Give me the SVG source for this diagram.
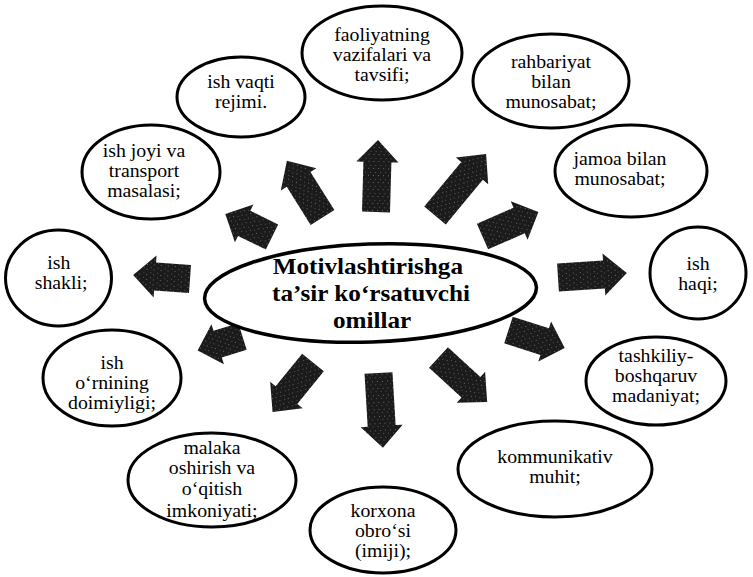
<svg xmlns="http://www.w3.org/2000/svg" width="753" height="577" viewBox="0 0 753 577">
<defs>
<pattern id="grain" width="7" height="5" patternUnits="userSpaceOnUse">
<rect width="7" height="5" fill="#1b1b1b"/>
<rect x="1" y="1" width="1" height="1" fill="#6a6a6a"/>
<rect x="4" y="3" width="1" height="1" fill="#555"/>
</pattern>
</defs>
<style>
.n{fill:#fff;stroke:#000;stroke-width:3}
.t{font-family:"Liberation Serif","Times New Roman",serif;font-size:18px;fill:#000;text-anchor:middle}
.c{font-family:"Liberation Serif","Times New Roman",serif;font-size:24px;font-weight:bold;fill:#000;text-anchor:middle}
.a{fill:url(#grain)}
</style>
<rect width="753" height="577" fill="#fff"/>
<g id="connectors">
<polygon class="a" transform="translate(376,212) rotate(-88.4)" points="0,-14 50,-14 50,-21 72,0 50,21 50,14 0,14"/>
<polygon class="a" transform="translate(322.5,217.5) rotate(-122.1)" points="0,-14 45,-14 45,-21 67,0 45,21 45,14 0,14"/>
<polygon class="a" transform="translate(272,237) rotate(-153.9)" points="0,-14 31,-14 31,-21 52,0 31,21 31,14 0,14"/>
<polygon class="a" transform="translate(190,279) rotate(-176)" points="0,-14 35,-14 35,-21 57,0 35,21 35,14 0,14"/>
<polygon class="a" transform="translate(242.5,336.5) rotate(162.7)" points="0,-14 26,-14 26,-21 47,0 26,21 26,14 0,14"/>
<polygon class="a" transform="translate(313,362.5) rotate(129.2)" points="0,-14 42,-14 42,-21 64,0 42,21 42,14 0,14"/>
<polygon class="a" transform="translate(378.5,373) rotate(86.6)" points="0,-14 53,-14 53,-21 75,0 53,21 53,14 0,14"/>
<polygon class="a" transform="translate(438.5,357.5) rotate(42.5)" points="0,-14 44,-14 44,-21 66,0 44,21 44,14 0,14"/>
<polygon class="a" transform="translate(508.5,330) rotate(17.7)" points="0,-14 38,-14 38,-21 59,0 38,21 38,14 0,14"/>
<polygon class="a" transform="translate(558,277.5) rotate(-3.7)" points="0,-14 46,-14 46,-21 69,0 46,21 46,14 0,14"/>
<polygon class="a" transform="translate(482.5,236.5) rotate(-23.6)" points="0,-14 40,-14 40,-21 61,0 40,21 40,14 0,14"/>
<polygon class="a" transform="translate(435,215.5) rotate(-50.3)" points="0,-14 58,-14 58,-21 80,0 58,21 58,14 0,14"/>
</g>
<g id="center">
<ellipse class="n" cx="370.5" cy="293" rx="166" ry="49" transform="rotate(-2 370.5 293)" style="stroke-width:3.5"/>
<text class="c" transform="matrix(1.05 0 0 1 -18.5 0)"><tspan x="368" y="274.5">Motivlashtirishga</tspan><tspan x="371" y="301.2">ta’sir ko‘rsatuvchi</tspan><tspan x="372" y="327.9">omillar</tspan></text>
</g>
<g id="n-faoliyat">
<ellipse class="n" cx="382" cy="53" rx="80" ry="47"/>
<text class="t" transform="matrix(1.1 0 0 1 -38.2 0)"><tspan x="382" y="41">faoliyatning</tspan><tspan x="382" y="61">vazifalari va</tspan><tspan x="382" y="81">tavsifi;</tspan></text>
</g>
<g id="n-vaqt">
<ellipse class="n" cx="241" cy="97" rx="64" ry="40"/>
<text class="t" transform="matrix(1.1 0 0 1 -24.1 0)"><tspan x="241" y="88">ish vaqti</tspan><tspan x="241" y="108">rejimi.</tspan></text>
</g>
<g id="n-joy">
<ellipse class="n" cx="151" cy="172" rx="69" ry="47"/>
<text class="t" transform="matrix(1.1 0 0 1 -14.4 0)"><tspan x="144" y="157">ish joyi va</tspan><tspan x="144" y="177">transport</tspan><tspan x="144" y="197">masalasi;</tspan></text>
</g>
<g id="n-shakl">
<ellipse class="n" cx="58.5" cy="278" rx="53" ry="48"/>
<text class="t" transform="matrix(1.1 0 0 1 -6 0)"><tspan x="59" y="269">ish</tspan><tspan x="61" y="289">shakli;</tspan></text>
</g>
<g id="n-orin">
<ellipse class="n" cx="112" cy="378" rx="69" ry="48"/>
<text class="t" transform="matrix(1.1 0 0 1 -11.2 0)"><tspan x="112" y="369">ish</tspan><tspan x="112" y="389">o‘rnining</tspan><tspan x="112" y="409">doimiyligi;</tspan></text>
</g>
<g id="n-malaka">
<ellipse class="n" cx="212" cy="480" rx="84" ry="47"/>
<text class="t" transform="matrix(1.1 0 0 1 -21.2 0)"><tspan x="212" y="454">malaka</tspan><tspan x="212" y="474">oshirish va</tspan><tspan x="212" y="495">o‘qitish</tspan><tspan x="212" y="517">imkoniyati;</tspan></text>
</g>
<g id="n-korxona">
<ellipse class="n" cx="383" cy="530" rx="73" ry="43"/>
<text class="t" transform="matrix(1.1 0 0 1 -38.3 0)"><tspan x="383" y="517">korxona</tspan><tspan x="383" y="537">obro‘si</tspan><tspan x="383" y="557">(imiji);</tspan></text>
</g>
<g id="n-kommunikativ">
<ellipse class="n" cx="555" cy="469" rx="97" ry="48"/>
<text class="t" transform="matrix(1.1 0 0 1 -55.5 0)"><tspan x="555" y="463.5">kommunikativ</tspan><tspan x="555" y="483.5">muhit;</tspan></text>
</g>
<g id="n-tashkiliy">
<ellipse class="n" cx="656" cy="381" rx="70" ry="44"/>
<text class="t" transform="matrix(1.1 0 0 1 -65.6 0)"><tspan x="656" y="362">tashkiliy-</tspan><tspan x="656" y="382">boshqaruv</tspan><tspan x="656" y="402">madaniyat;</tspan></text>
</g>
<g id="n-haq">
<ellipse class="n" cx="698" cy="273" rx="48" ry="46"/>
<text class="t" transform="matrix(1.1 0 0 1 -69.8 0)"><tspan x="698" y="270.5">ish</tspan><tspan x="698" y="290.5">haqi;</tspan></text>
</g>
<g id="n-jamoa">
<ellipse class="n" cx="631" cy="171" rx="76" ry="46"/>
<text class="t" transform="matrix(1.1 0 0 1 -62 0)"><tspan x="620" y="165.5">jamoa bilan</tspan><tspan x="620" y="185.5">munosabat;</tspan></text>
</g>
<g id="n-rahbar">
<ellipse class="n" cx="551" cy="81" rx="78" ry="47"/>
<text class="t" transform="matrix(1.1 0 0 1 -55.1 0)"><tspan x="551" y="68">rahbariyat</tspan><tspan x="551" y="88">bilan</tspan><tspan x="551" y="108">munosabat;</tspan></text>
</g>
</svg>
